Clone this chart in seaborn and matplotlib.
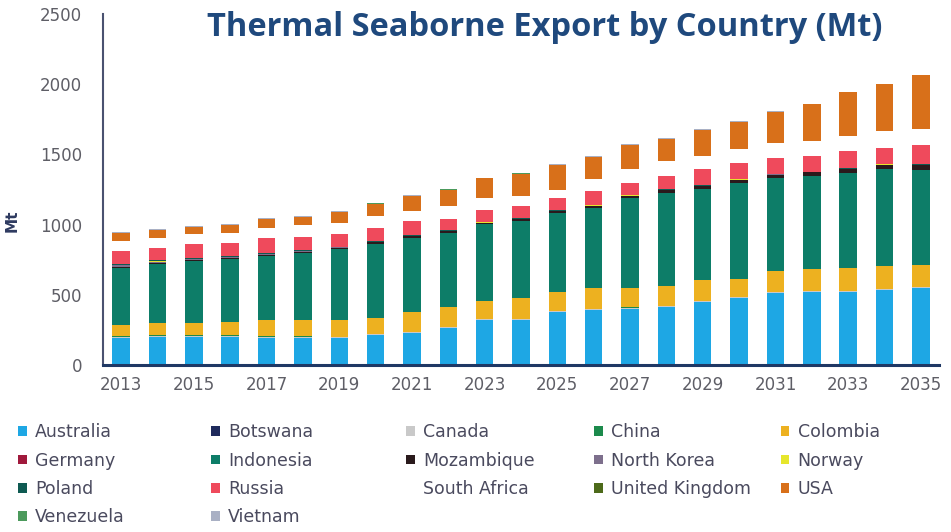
import matplotlib
matplotlib.use("Agg")
import matplotlib.pyplot as plt
from matplotlib.patches import Patch
import pandas as pd
import seaborn as sns

years = list(range(2013, 2036))

countries = ["Australia", "Botswana", "Canada", "China", "Colombia", "Germany",
             "Indonesia", "Mozambique", "North Korea", "Norway", "Poland", "Russia",
             "South Africa", "United Kingdom", "USA", "Venezuela", "Vietnam"]

australia = [191, 198, 198, 198, 191, 191, 191, 212, 226, 262, 318, 318, 375, 389, 400, 411, 446, 474, 510, 517, 517, 531, 545]
botswana = [0, 0, 0, 0, 0, 0, 0, 0, 0, 1, 1, 1, 1, 1, 1, 1, 2, 2, 2, 2, 2, 2, 2]
canada = [8, 8, 8, 8, 8, 8, 7, 7, 7, 7, 6, 6, 6, 6, 6, 6, 6, 6, 6, 6, 6, 6, 6]
china = [6, 6, 5, 5, 5, 5, 4, 4, 4, 4, 4, 4, 4, 4, 4, 4, 4, 4, 4, 4, 4, 4, 4]
colombia = [78, 85, 86, 93, 114, 114, 116, 110, 138, 136, 127, 145, 131, 145, 139, 144, 144, 130, 151, 158, 165, 165, 158]
germany = [0] * 23
indonesia = [411, 425, 446, 453, 461, 482, 510, 531, 531, 532, 545, 553, 566, 574, 639, 659, 651, 680, 658, 658, 672, 687, 675]
mozambique = [5, 5, 5, 6, 6, 7, 8, 9, 10, 11, 12, 13, 14, 15, 17, 19, 21, 23, 25, 27, 29, 31, 33]
north_korea = [12, 10, 8, 6, 4, 2, 2, 1, 1, 1, 1, 1, 1, 1, 1, 1, 1, 1, 1, 1, 1, 1, 1]
norway = [2] * 23
poland = [6, 6, 6, 5, 5, 5, 4, 4, 4, 4, 3, 3, 3, 3, 3, 3, 3, 3, 3, 3, 3, 3, 3]
russia = [95, 90, 100, 95, 110, 99, 91, 97, 104, 80, 88, 87, 86, 99, 84, 95, 115, 112, 111, 109, 121, 111, 136]
south_africa = [71, 71, 71, 71, 71, 85, 77, 85, 70, 93, 85, 71, 60, 85, 99, 107, 92, 99, 106, 106, 106, 121, 115]
united_kingdom = [0] * 23
usa = [52, 52, 46, 54, 63, 55, 79, 87, 108, 115, 137, 158, 177, 159, 173, 158, 187, 196, 223, 265, 315, 336, 383]
venezuela = [3, 3, 2, 2, 2, 2, 2, 2, 2, 2, 2, 2, 2, 2, 2, 2, 2, 2, 2, 2, 2, 2, 2]
vietnam = [10, 9, 8, 7, 6, 5, 4, 3, 3, 3, 3, 2, 2, 2, 2, 2, 2, 2, 2, 2, 2, 2, 2]

series = [australia, botswana, canada, china, colombia, germany, indonesia,
          mozambique, north_korea, norway, poland, russia, south_africa,
          united_kingdom, usa, venezuela, vietnam]

colors = ["#1EA7E4", "#1F2A5C", "#C9C9C9", "#1C8A4C", "#EDB120", "#A0193C",
          "#0D7D68", "#2A1A1C", "#7D6F8C", "#E6E62C", "#0E5A52", "#EF4A5C",
          "#FFFFFF", "#4D6A1A", "#D8701A", "#4C9A5C", "#A9B0C4"]
palette = dict(zip(countries, colors))

rows = []
for c, vals in zip(countries, series):
    for y, v in zip(years, vals):
        rows.append({"Year": y, "Country": c, "Mt": v})
df = pd.DataFrame(rows)

sns.set_theme(style="white")
plt.rcParams["font.family"] = ["DejaVu Sans"]

fig = plt.figure(figsize=(9.51, 5.32), dpi=100)
ax = fig.add_axes([0.1083, 0.3139, 0.8791, 0.6598])

sns.histplot(data=df, x="Year", weights="Mt", hue="Country",
             hue_order=countries[::-1], multiple="stack", discrete=True,
             shrink=0.48, palette=palette, alpha=1, linewidth=0,
             legend=False, ax=ax)

ax.set_xlim(2012.5, 2035.5)
ax.set_ylim(0, 2500)
ax.set_yticks(range(0, 2501, 500))
ax.set_xticks(range(2013, 2036, 2))
ax.set_xlabel("")
ax.set_ylabel("Mt", fontsize=11, fontweight="bold", color="#2E3A60")
ax.yaxis.set_label_coords(-0.100, 0.41)
ax.tick_params(axis="both", length=0, labelsize=12, colors="#5E5E66")
ax.tick_params(axis="y", pad=15)
ax.tick_params(axis="x", pad=8)
for s in ["top", "right"]:
    ax.spines[s].set_visible(False)
ax.spines["left"].set_color("#4A5270")
ax.spines["left"].set_linewidth(1.5)
ax.spines["bottom"].set_color("#1F3864")
ax.spines["bottom"].set_linewidth(2.2)
ax.grid(False)

fig.text(0.573, 0.948, "Thermal Seaborne Export by Country (Mt)", ha="center",
         va="center", fontsize=23.5, fontweight="bold", color="#1F497D",
         family=["Open Sans", "DejaVu Sans"])

# Legend laid out row-major in 5 columns
ncols = 5
col_x = [0.019, 0.222, 0.427, 0.625, 0.821]
for ci in range(ncols):
    idxs = list(range(ci, len(countries), ncols))
    handles = [Patch(facecolor=colors[i], edgecolor="none") for i in idxs]
    labels = [countries[i] for i in idxs]
    fig.legend(handles, labels, loc="upper left", bbox_to_anchor=(col_x[ci], 0.204),
               frameon=False, fontsize=12.5, handlelength=0.5, handleheight=0.5,
               handletextpad=0.47, labelspacing=0.59, borderaxespad=0,
               borderpad=0, labelcolor="#4A4A5E")

fig.savefig("out.png", dpi=100)
